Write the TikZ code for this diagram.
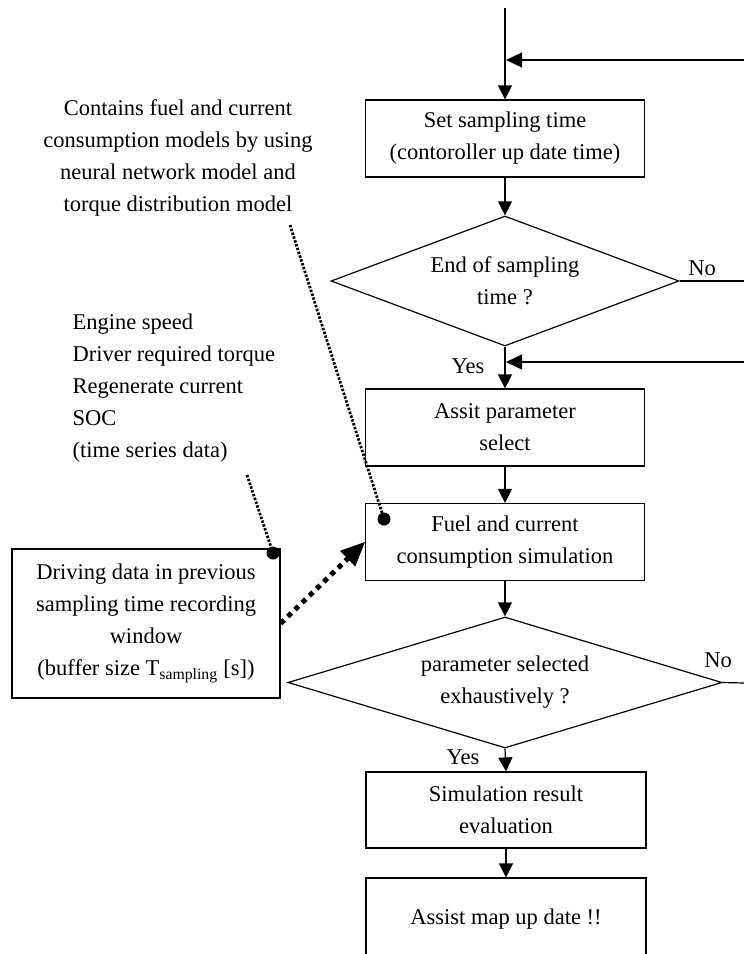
\documentclass[tikz,border=0pt]{standalone}
\usepackage{fontspec}
\setmainfont{Liberation Serif}
\usetikzlibrary{arrows.meta,shapes.geometric}
\begin{document}
\begin{tikzpicture}[x=1pt,y=-1pt,
  font=\fontsize{22.5pt}{32pt}\selectfont,
  line width=1.2pt,
  procbox/.style={draw, rectangle, minimum width=279pt, minimum height=77pt, inner sep=0pt, align=center},
  decision/.style={draw, diamond, inner sep=0pt},
  flow/.style={-{Triangle[length=14pt,width=14pt]}},
  back/.style={-{Triangle[length=16pt,width=15pt]}},
  thindot/.style={line width=2.8pt, dash pattern=on 2.4pt off 1.6pt},
  thickdot/.style={line width=5pt, dash pattern=on 5pt off 5pt, -{Triangle[length=24pt,width=22pt,line width=0pt]}},
  blob/.style={fill=black, circle, inner sep=0pt, minimum size=13pt},
  lbl/.style={inner sep=0pt}
]
\useasboundingbox (0,0) rectangle (744,954);

% main column
\coordinate (top) at (505,8);
\node[procbox] (b1) at (505,138.5) {Set sampling time\\(contoroller up date time)};
\coordinate (j1) at (506,60);
\coordinate (r1) at (744,60);

\node[decision, minimum width=348pt, minimum height=130pt] (d1) at (505,281) {};
\node[lbl, align=center] at (d1) {End of sampling\\time ?};
\coordinate (r1b) at (744,281);
\node[lbl] (no1) at (702,268) {No};

\coordinate (j2) at (506,362);
\coordinate (r2) at (744,362);
\node[lbl] (yes1) at (468,366) {Yes};

\node[procbox] (b2) at (505,427.5) {Assit parameter\\select};
\node[procbox] (b3) at (505,542) {Fuel and current\\consumption simulation};

\node[decision, minimum width=434pt, minimum height=131pt] (d2) at (505,682.5) {};
\node[lbl, align=center] at (d2) {parameter selected\\exhaustively ?};
\coordinate (r3) at (744,683);
\node[lbl] (no2) at (718,660) {No};
\node[lbl] (yes2) at (463,757) {Yes};

\node[procbox, minimum width=280pt, minimum height=76pt] (b4) at (506,810) {Simulation result\\evaluation};
\begin{scope}
\clip (0,0) rectangle (744,954);
\node[procbox, minimum width=280pt, minimum height=82pt] (b5) at (506,919) {Assist map up date !!};
\end{scope}

% connectors
\draw[flow] (top) -- (b1.north);
\draw[back] (r1) -- (j1);
\draw[flow] (b1.south) -- (d1.north);
\draw (d1.east) -- (r1b);
\draw[flow] (d1.south) -- (b2.north);
\draw[back] (r2) -- (j2);
\draw[flow] (b2.south) -- (b3.north);
\draw[flow] (b3.south) -- (d2.north);
\draw (d2.east) -- (r3);
\draw[flow] (d2.south) -- (b4.north);
\draw[flow] (b4.south) -- (b5.north);

% left side
\node[lbl, align=center] (note1) at (178,158) {Contains fuel and current\\consumption models by using\\neural network model and\\torque distribution model};
\node[lbl, align=left, anchor=west] (note2) at (72,388) {Engine speed\\Driver required torque\\Regenerate current\\SOC\\(time series data)};

\node[draw, rectangle, minimum width=268pt, minimum height=149pt, inner sep=0pt, align=center] (lbox) at (146,623.5)
  {Driving data in previous\\sampling time recording\\window\\(buffer size T\textsubscript{sampling} [s])};

\node[blob] (dot1) at (384,519) {};
\node[blob] (dot2) at (273,553) {};
\coordinate (n1end) at (290,225);
\coordinate (n2end) at (247,475);
\draw[thindot] (n1end) -- (dot1.center);
\draw[thindot] (n2end) -- (dot2.center);
\draw[thickdot] (lbox.east) -- (b3.west);
\end{tikzpicture}
\end{document}
